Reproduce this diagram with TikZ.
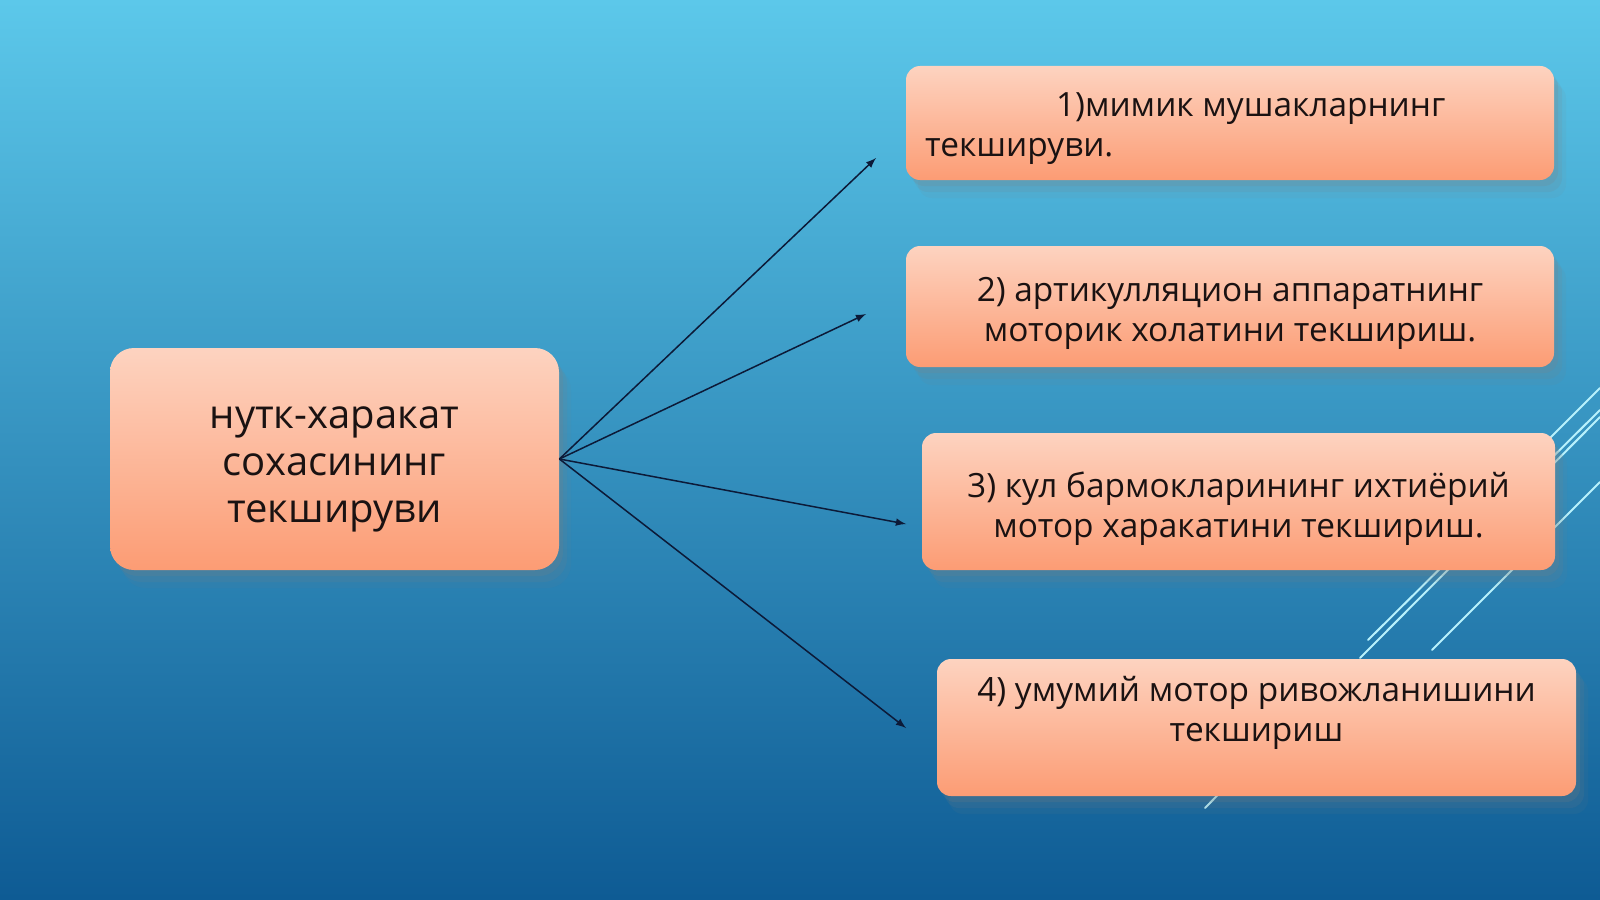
\documentclass[tikz,border=0pt]{standalone}
\usepackage{fontspec}
\setmainfont{Open Sans}
\usetikzlibrary{shadows}
\definecolor{bgtop}{HTML}{5CC8EA}
\definecolor{bgmid}{HTML}{3BA0CC}
\definecolor{bgbot}{HTML}{0E5B94}
\definecolor{peachtop}{HTML}{FDD3C0}
\definecolor{peachbot}{HTML}{FC9C74}
\definecolor{inkdark}{HTML}{1A1212}
\definecolor{arrowink}{HTML}{0C1A38}
\definecolor{glint}{HTML}{B8F1FC}
\tikzset{
  softshadow/.style={
    drop shadow={shadow xshift=2pt,shadow yshift=-3pt,opacity=.18},
    drop shadow={shadow xshift=4pt,shadow yshift=-6pt,opacity=.13},
    drop shadow={shadow xshift=6pt,shadow yshift=-9pt,opacity=.08}},
  peachbox/.style={rectangle, rounded corners=7pt, softshadow,
    top color=peachtop, bottom color=peachbot, inner sep=0pt},
  mainbox/.style={peachbox, rounded corners=12pt,
    minimum width=224.5pt, minimum height=111pt},
  boxtext/.style={text=inkdark, inner sep=0pt, font=\fontsize{16.7}{20}\selectfont},
  maintext/.style={boxtext, align=center, font=\fontsize{20}{23.5}\selectfont},
  glintline/.style={glint, line width=1pt, line cap=round},
  spoke/.style={arrowink, line width=.75pt, -latex}
}
\begin{document}
\begin{tikzpicture}[x=.5pt,y=-.5pt]
    \useasboundingbox (0,0) rectangle (1600,899);
    \fill[top color=bgtop, middle color=bgmid, bottom color=bgbot] (0,0) rectangle (1600,899);% background
    % light strokes behind the boxes
    \draw[glintline] (1600,388) -- (1540,448);
    \draw[glintline] (1600,410) -- (1368,640);
    \draw[glintline] (1600,417) -- (1360,658);
    \draw[glintline] (1600,482) -- (1432,650);
    \draw[glintline] (1250,762) -- (1205,808);
    % boxes
    \node (main) [mainbox] at (334.5,459) {};
    \node (b1) [peachbox, minimum width=324pt, minimum height=57pt] at (1230,123) {};
    \node (b2) [peachbox, minimum width=324pt, minimum height=60.5pt] at (1230,306.5) {};
    \node (b3) [peachbox, minimum width=316.5pt, minimum height=68.5pt] at (1238.5,501.5) {};
    \node (b4) [peachbox, minimum width=319.5pt, minimum height=68.5pt] at (1256.5,727.5) {};
    % texts
    \node (t0) [maintext] at ([yshift=-5pt]main.center) {нутк-харакат\\сохасининг\\текшируви};
    \node (t1) [boxtext, text width=305pt, align=left] at ([yshift=-3pt]b1.center)
        {\spaceskip=0pt\relax\hspace*{65.5pt}1)мимик мушакларнинг\\текшируви.};
    \node (t2) [boxtext, align=center] at ([yshift=-3.5pt]b2.center)
        {2) артикулляцион аппаратнинг\\моторик холатини текшириш.};
    \node (t3) [boxtext, align=center] at ([yshift=-3.5pt]b3.center)
        {3) кул бармокларининг ихтиёрий\\мотор харакатини текшириш.};
    \node (t4) [boxtext, align=center] at (1256.5,713)
        {4) умумий мотор ривожланишини\\текшириш};
    % spokes
    \coordinate (tip1) at (876,158);
    \coordinate (tip2) at (866,314);
    \coordinate (tip3) at (906,524);
    \coordinate (tip4) at (906,728);
    \foreach \t in {tip1,tip2,tip3,tip4}
        \draw[spoke] (main.east) -- (\t);
\end{tikzpicture}
\end{document}
